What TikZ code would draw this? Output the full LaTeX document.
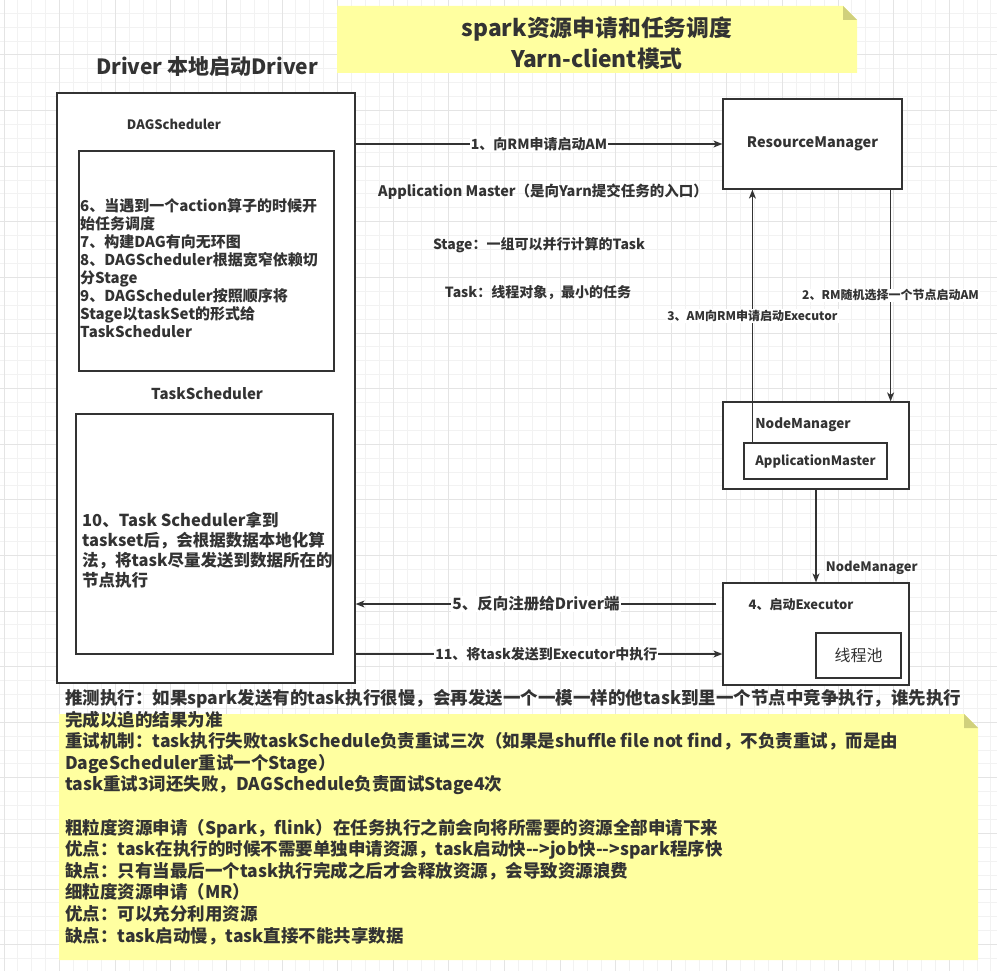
\documentclass[tikz,border=0pt]{standalone}
\usepackage{fontspec}
\setmainfont{Noto Sans CJK SC}
\usepackage{tikz}
\usetikzlibrary{arrows.meta}
\definecolor{notefill}{HTML}{FFFFA0}
\definecolor{notefold}{HTML}{D0D07C}
\definecolor{gridminor}{HTML}{F2F2F2}
\definecolor{gridmajor}{HTML}{E4E4E4}

\begin{document}
\begin{tikzpicture}[
    x=1pt, y=-1pt,
    every node/.style={text=black!80},
    frame/.style={draw=black!80, fill=white, line width=1.2pt, inner sep=0pt},
    heading/.style={font=\bfseries\fontsize{22.8}{31}\selectfont, align=center},
    tag/.style={font=\bfseries\fontsize{13}{15}\selectfont},
    body/.style={font=\bfseries\fontsize{15}{18}\selectfont, align=left, inner sep=0pt},
    edgetext/.style={fill=white, inner sep=1pt, font=\bfseries\fontsize{14}{16}\selectfont},
    smalltext/.style={fill=white, inner sep=1pt, font=\bfseries\fontsize{12}{14}\selectfont},
    arrow/.style={-{Stealth[length=9pt, width=7pt, inset=2.5pt]}, line width=1.2pt, draw=black!80}
  ]
  \useasboundingbox (0,0) rectangle (997,971);

  \foreach \i in {0,...,71} \draw[gridminor, line width=1pt] ({4+13.9*\i},0) -- ({4+13.9*\i},971);
  \foreach \j in {1,...,69} \draw[gridminor, line width=1pt] (0,{-0.6+13.9*\j}) -- (997,{-0.6+13.9*\j});
  \foreach \i in {0,...,17} \draw[gridmajor, line width=1pt] ({4+55.6*\i},0) -- ({4+55.6*\i},971);
  \foreach \j in {1,...,17} \draw[gridmajor, line width=1pt] (0,{-0.6+55.6*\j}) -- (997,{-0.6+55.6*\j});

  \fill[notefill] (337,6) -- (843,6) -- (857,20) -- (857,73) -- (337,73) -- cycle;
  \fill[notefold] (843,6) -- (843,20) -- (857,20) -- cycle;
  \fill[notefill] (59,714) -- (964,714) -- (978,728) -- (978,960) -- (59,960) -- cycle;
  \fill[notefold] (964,714) -- (964,728) -- (978,728) -- cycle;

  \node[heading] (title) at (597,43.5) {spark资源申请和任务调度\\Yarn-client模式};
  \node[heading, font=\bfseries\fontsize{21}{25}\selectfont] (drivertitle) at (207,67) {Driver 本地启动Driver};

  \node[frame, minimum width=298pt, minimum height=590pt] (driver) at (206,388) {};
  \node[tag] (dagname) at (174,124) {DAGScheduler};
  \node[frame, minimum width=255pt, minimum height=220pt] (dag) at (206.5,261) {};
  \node[body, anchor=west] (dagtext) at (80,268)
    {6、当遇到一个action算子的时候开\\始任务调度\\7、构建DAG有向无环图\\8、DAGScheduler根据宽窄依赖切\\分Stage\\9、DAGScheduler按照顺序将\\Stage以taskSet的形式给\\TaskScheduler};
  \node[tag, font=\bfseries\fontsize{15}{17}\selectfont] (taskname) at (207,394) {TaskScheduler};
  \node[frame, minimum width=257pt, minimum height=240pt] (tasks) at (204.5,534) {};
  \node[body, font=\bfseries\fontsize{16.5}{20}\selectfont, anchor=west] (tasktext) at (82,550.5)
    {10、Task Scheduler拿到\\taskset后，会根据数据本地化算\\法，将task尽量发送到数据所在的\\节点执行};

  \node[frame, minimum width=179pt, minimum height=90pt, font=\bfseries\fontsize{14.5}{17}\selectfont] (rm) at (812.5,144) {ResourceManager};
  \node[frame, minimum width=186pt, minimum height=87pt] (nm) at (816,445.5) {};
  \node[tag, font=\bfseries\fontsize{13.5}{16}\selectfont] (nmname) at (803,425) {NodeManager};
  \node[frame, minimum width=143pt, minimum height=36pt, font=\bfseries\fontsize{13}{15}\selectfont] (am) at (815.5,461) {ApplicationMaster};
  \node[frame, minimum width=186pt, minimum height=102pt] (exec) at (816,634) {};
  \node[tag] (execname) at (801,605) {4、启动Executor};
  \node[frame, minimum width=85pt, minimum height=45pt, font=\fontsize{16}{18}\selectfont] (pool) at (858.5,655.5) {线程池};

  \node[font=\bfseries\fontsize{14.5}{17}\selectfont] (amnote) at (543,192) {Application Master（是向Yarn提交任务的入口）};
  \node[font=\bfseries\fontsize{14}{16}\selectfont] (stagenote) at (539,245) {Stage：一组可以并行计算的Task};
  \node[font=\bfseries\fontsize{14}{16}\selectfont] (tasknote) at (538,293) {Task：线程对象，最小的任务};

  \node[body, font=\bfseries\fontsize{17.5}{21.6}\selectfont, anchor=west] (remarks) at (65,817)
    {推测执行：如果spark发送有的task执行很慢，会再发送一个一模一样的他task到里一个节点中竞争执行，谁先执行\\
     完成以追的结果为准\\
     重试机制：task执行失败taskSchedule负责重试三次（如果是shuffle file not find，不负责重试，而是由\\
     DageScheduler重试一个Stage）\\
     task重试3词还失败，DAGSchedule负责面试Stage4次\\[21.6pt]
     粗粒度资源申请（Spark，flink）在任务执行之前会向将所需要的资源全部申请下来\\
     优点：task在执行的时候不需要单独申请资源，task启动快{-}{-}>job快{-}{-}>spark程序快\\
     缺点：只有当最后一个task执行完成之后才会释放资源，会导致资源浪费\\
     细粒度资源申请（MR）\\
     优点：可以充分利用资源\\
     缺点：task启动慢，task直接不能共享数据};

  \draw[arrow] (driver.east |- rm.west) -- (rm.west)
    node[midway, edgetext] {1、向RM申请启动AM};
  \draw[arrow] ([xshift=-12pt]rm.south east) -- ([xshift=-12pt]rm.south east |- nm.north)
    node[midway, smalltext] {2、RM随机选择一个节点启动AM};
  \draw[arrow] ([xshift=9pt]am.north west) -- ([xshift=9pt]am.north west |- rm.south)
    node[midway, smalltext] {3、AM向RM申请启动Executor};
  \draw[arrow] (nm.south) -- (exec.north)
    node[pos=0.84, anchor=west, xshift=6pt, tag] {NodeManager};
  \draw[arrow] ([xshift=-6pt, yshift=30pt]exec.west) -- ([yshift=30pt]exec.west -| driver.east)
    node[midway, edgetext, font=\bfseries\fontsize{15.5}{18}\selectfont] {5、反向注册给Driver端};
  \draw[arrow] ([yshift=-20pt]exec.west -| driver.east) -- ([yshift=-20pt]exec.west)
    node[pos=0.52, edgetext] {11、将task发送到Executor中执行};
\end{tikzpicture}
\end{document}
